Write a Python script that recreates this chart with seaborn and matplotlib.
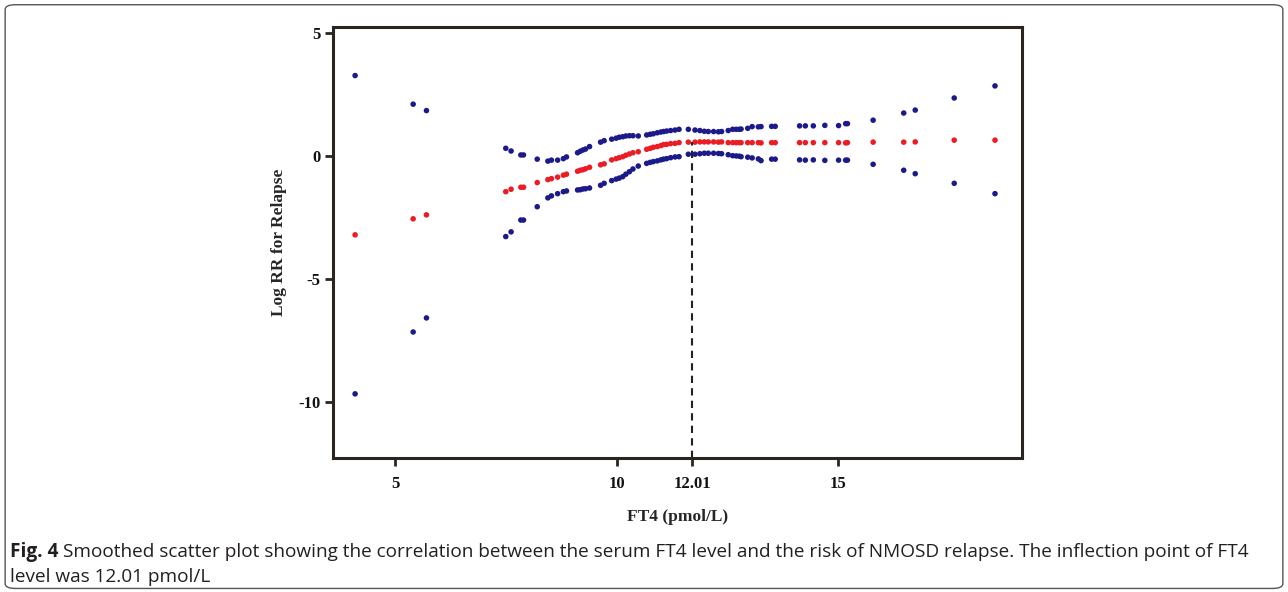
import pandas as pd
import numpy as np
import matplotlib
matplotlib.use("Agg")
import matplotlib.pyplot as plt
from matplotlib.patches import FancyBboxPatch
import seaborn as sns

# FT4 values (pmol/L) and smoothed log RR with its 95% CI
ft4 = [4.10, 5.41, 5.71, 7.50, 7.62, 7.84, 7.90, 8.21, 8.45, 8.53, 8.67, 8.80, 8.87,
       9.12, 9.18, 9.24, 9.30, 9.39, 9.64, 9.72, 9.89, 9.99, 10.06, 10.14, 10.21,
       10.29, 10.37, 10.49, 10.68, 10.76, 10.83, 10.92, 11.00, 11.06, 11.13, 11.22,
       11.32, 11.41, 11.62, 11.77, 11.88, 11.98, 12.07, 12.19, 12.30, 12.37, 12.52,
       12.62, 12.70, 12.77, 12.81, 12.96, 13.06, 13.20, 13.26, 13.50, 13.58, 14.13,
       14.26, 14.44, 14.70, 15.01, 15.17, 15.21, 15.79, 16.48, 16.74, 17.62, 18.54]

log_rr = [-3.20, -2.55, -2.39, -1.45, -1.35, -1.27, -1.27, -1.08, -0.96, -0.92, -0.86,
          -0.78, -0.74, -0.62, -0.58, -0.56, -0.52, -0.46, -0.36, -0.32, -0.16, -0.11,
          -0.07, -0.03, 0.03, 0.08, 0.13, 0.17, 0.27, 0.31, 0.35, 0.38, 0.42, 0.46,
          0.47, 0.50, 0.51, 0.54, 0.56, 0.56, 0.57, 0.57, 0.57, 0.57, 0.56, 0.57, 0.54,
          0.54, 0.54, 0.54, 0.54, 0.54, 0.54, 0.54, 0.53, 0.54, 0.54, 0.54, 0.54, 0.54,
          0.54, 0.54, 0.53, 0.54, 0.56, 0.56, 0.57, 0.64, 0.64]

upper = [3.26, 2.10, 1.84, 0.31, 0.20, 0.04, 0.04, -0.13, -0.21, -0.17, -0.17, -0.11,
         -0.04, 0.13, 0.19, 0.24, 0.28, 0.38, 0.56, 0.62, 0.68, 0.72, 0.76, 0.78, 0.81,
         0.82, 0.82, 0.81, 0.85, 0.88, 0.90, 0.94, 0.97, 0.99, 1.01, 1.03, 1.05, 1.08,
         1.08, 1.05, 1.03, 1.00, 0.99, 0.99, 0.98, 0.99, 1.03, 1.08, 1.08, 1.08, 1.09,
         1.12, 1.19, 1.18, 1.19, 1.20, 1.20, 1.22, 1.22, 1.22, 1.24, 1.23, 1.31, 1.31,
         1.45, 1.74, 1.86, 2.35, 2.84]

lower = [-9.65, -7.14, -6.57, -3.27, -3.08, -2.60, -2.60, -2.06, -1.70, -1.62, -1.53,
         -1.45, -1.42, -1.38, -1.37, -1.34, -1.33, -1.30, -1.19, -1.11, -1.00, -0.94,
         -0.90, -0.84, -0.74, -0.64, -0.53, -0.41, -0.30, -0.26, -0.23, -0.20, -0.16,
         -0.13, -0.11, -0.07, -0.04, -0.03, 0.07, 0.07, 0.09, 0.11, 0.11, 0.11, 0.10,
         0.09, 0.05, 0.01, 0.00, -0.01, -0.03, -0.05, -0.08, -0.12, -0.19, -0.13,
         -0.13, -0.16, -0.17, -0.16, -0.18, -0.17, -0.17, -0.17, -0.34, -0.58, -0.72,
         -1.11, -1.53]

x_ticks = [5, 10, 11.71, 15]
x_tick_labels = ["5", "10", "12.01", "15"]
y_ticks = [5, 0, -5, -10]
inflection_x = 11.71
inflection_top = 0.56

df = pd.concat([
    pd.DataFrame({"FT4": ft4, "value": upper, "series": "upper"}),
    pd.DataFrame({"FT4": ft4, "value": lower, "series": "lower"}),
    pd.DataFrame({"FT4": ft4, "value": log_rr, "series": "fit"}),
])

sns.set_style("white")
plt.rcParams["font.family"] = ["Liberation Serif", "DejaVu Serif"]
plt.rcParams["axes.unicode_minus"] = False

fig = plt.figure(figsize=(12.88, 5.92), dpi=100)
ax = fig.add_axes([0.2585, 0.2264, 0.535, 0.728])

pal = {"upper": "#1c1a8a", "lower": "#1c1a8a", "fit": "#ec1c24"}
sns.scatterplot(data=df, x="FT4", y="value", hue="series", palette=pal,
                s=16, linewidth=0, legend=False, ax=ax)

ax.plot([inflection_x, inflection_x], [-12.25, inflection_top], color="#222222",
        lw=1.5, ls=(0, (3.5, 2.5)), zorder=1)

ax.set_xlim(3.6, 19.15)
ax.set_ylim(-12.25, 5.23)
ax.set_xticks(x_ticks)
ax.set_xticklabels(x_tick_labels)
ax.set_yticks(y_ticks)

for s in ax.spines.values():
    s.set_color("#2b2522")
    s.set_linewidth(2.2)
ax.tick_params(axis="both", direction="out", length=6, width=2, color="#2b2522",
               labelsize=12, labelcolor="#111111", bottom=True, left=True)
ax.tick_params(axis="x", pad=7)
ax.tick_params(axis="y", pad=3)
for lab in ax.get_xticklabels() + ax.get_yticklabels():
    lab.set_fontweight("bold")

ax.set_xlabel("FT4 (pmol/L)", fontsize=12.5, fontweight="bold", labelpad=12)
ax.set_ylabel("Log RR for Relapse", fontsize=12.5, fontweight="bold", labelpad=8)

# caption
cap_font = ["Liberation Sans Narrow", "Open Sans", "DejaVu Sans"]
cap_size = 13.7
t1 = fig.text(0.0078, 1 - 552 / 592, "Fig. 4", fontsize=cap_size, fontweight="bold",
              family=cap_font, color="#231f20", va="center")
fig.canvas.draw()
bb = t1.get_window_extent()
fig.text((bb.x1 + 5) / fig.bbox.width, 1 - 552 / 592,
         "Smoothed scatter plot showing the correlation between the serum FT4 level and the risk of NMOSD relapse. The inflection point of FT4",
         fontsize=cap_size, family=cap_font, color="#231f20", va="center")
fig.text(0.0078, 1 - 577 / 592, "level was 12.01 pmol/L", fontsize=cap_size,
         family=cap_font, color="#231f20", va="center")

border = FancyBboxPatch((0.004, 0.006), 0.992, 0.986, boxstyle="round,pad=0,rounding_size=0.008",
                        transform=fig.transFigure, fill=False, ec="#555555", lw=1)
fig.patches.append(border)

fig.savefig("out.png", dpi=100)
